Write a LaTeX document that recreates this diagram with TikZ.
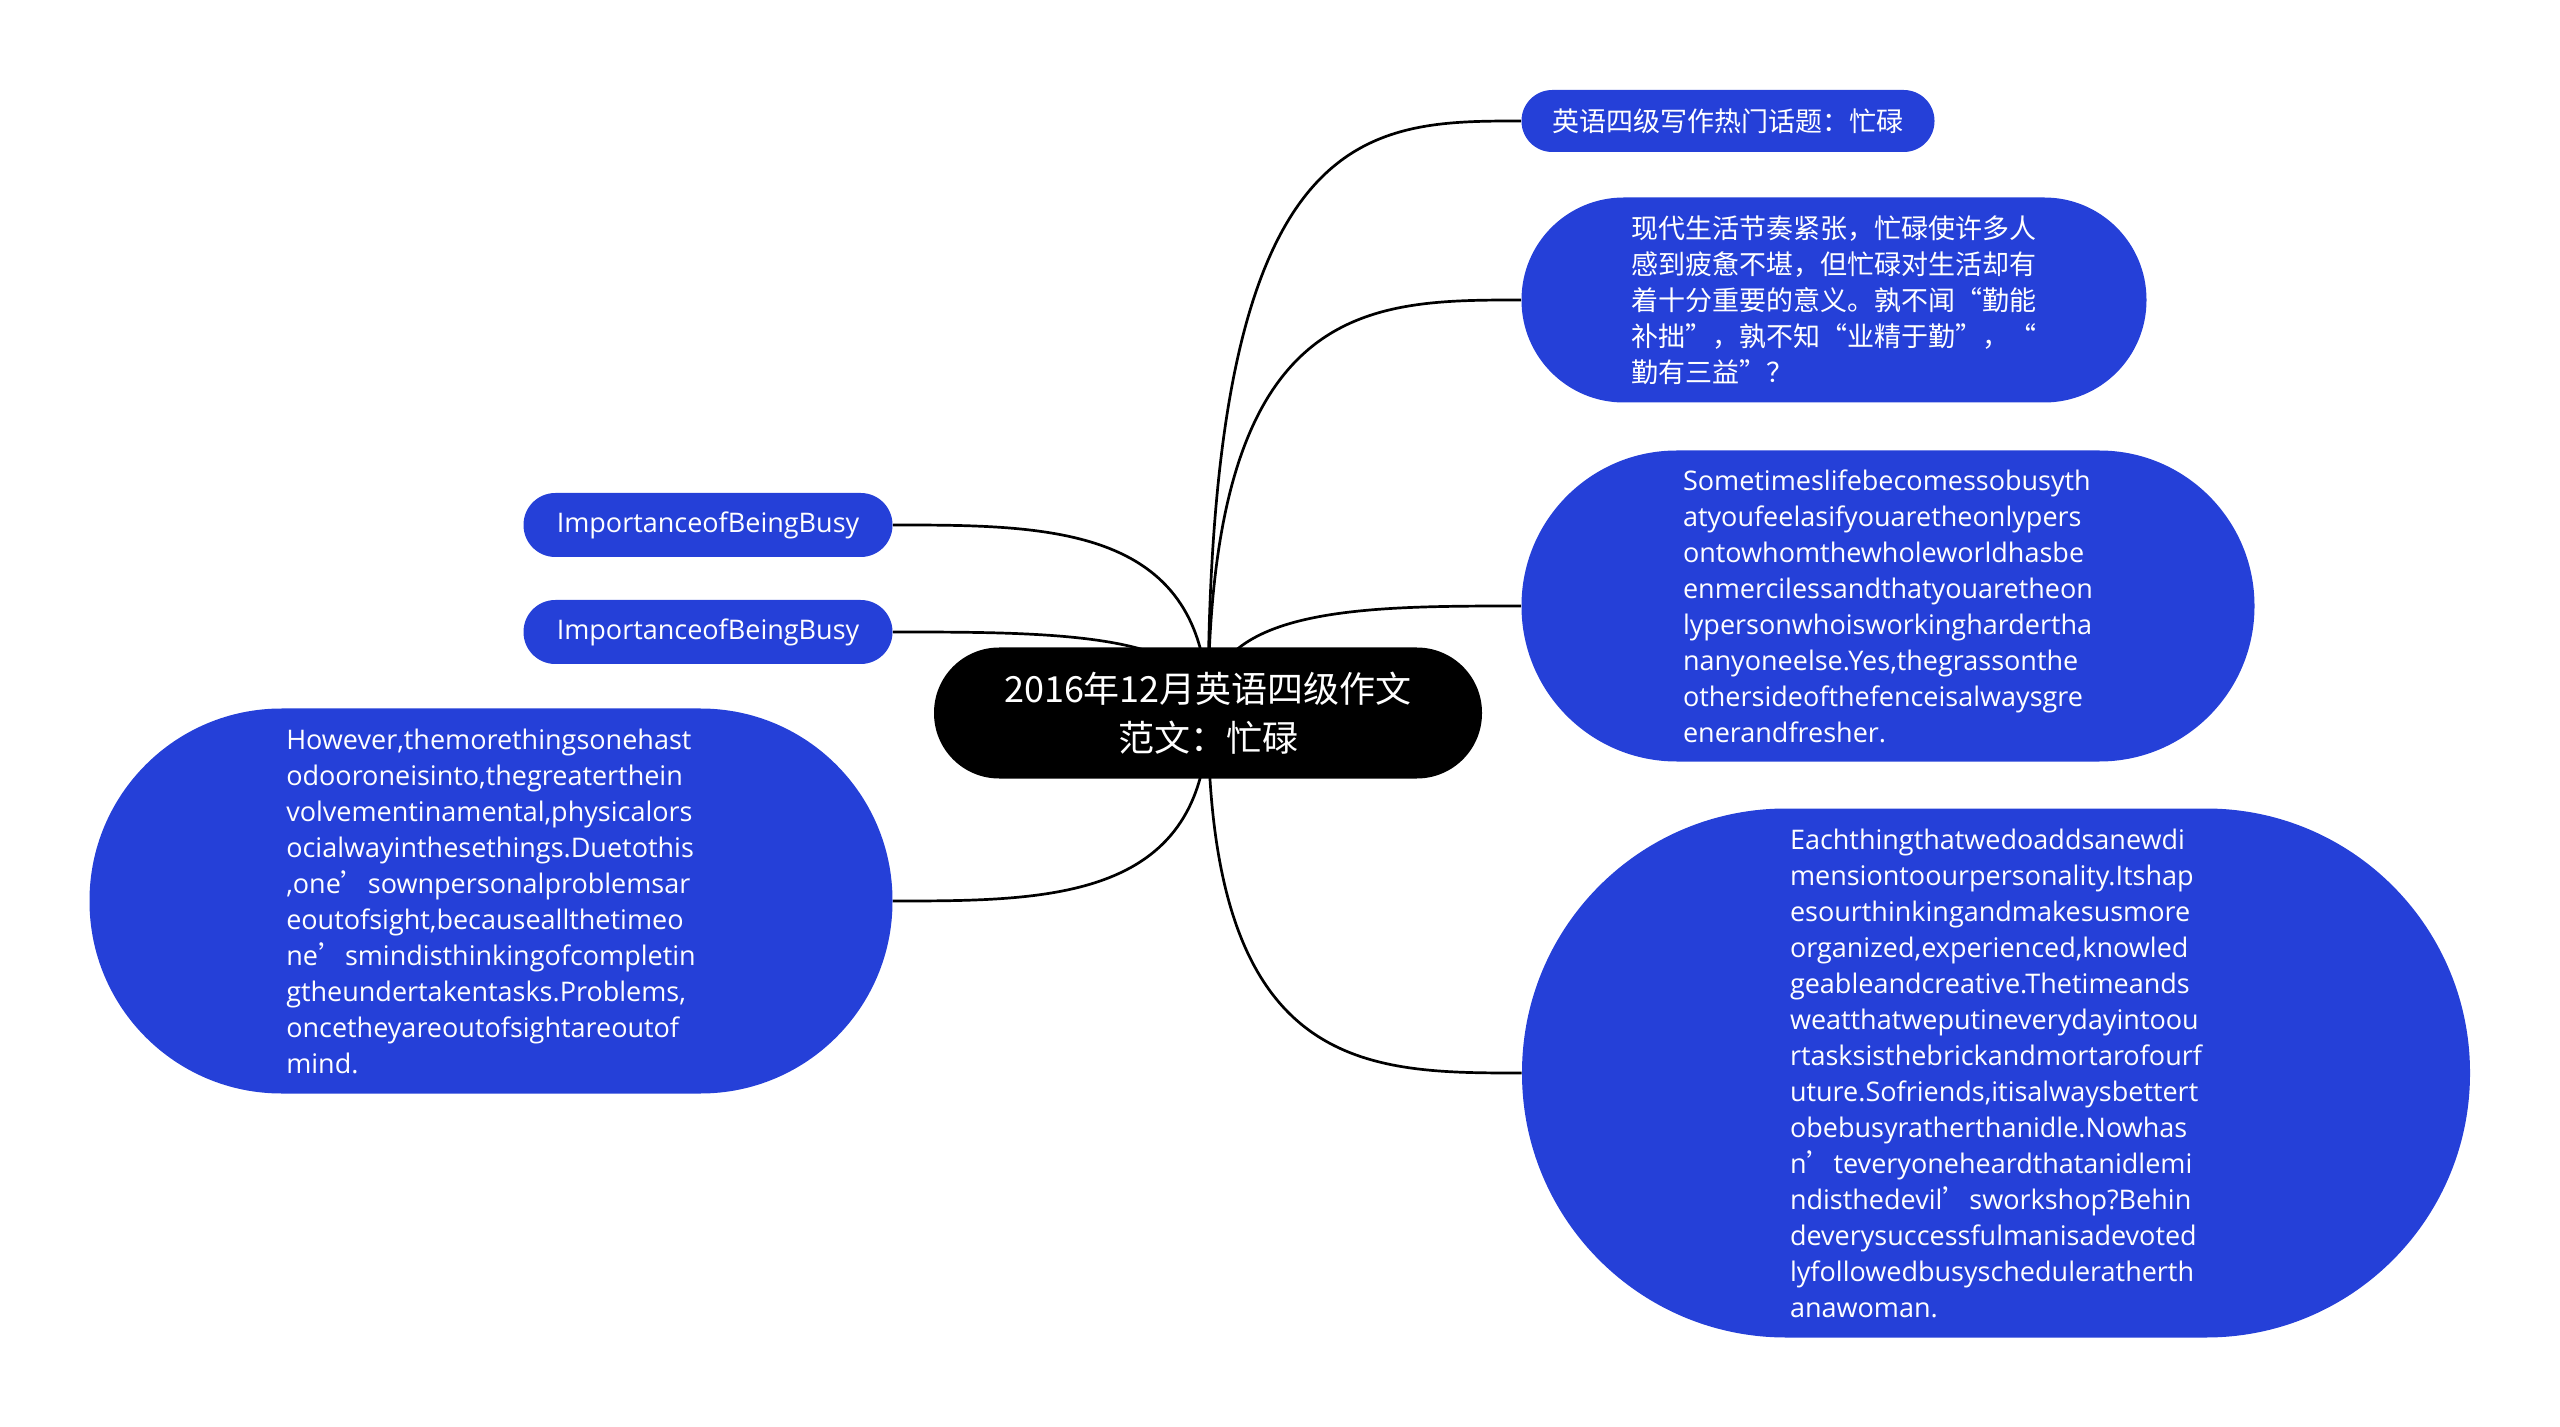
\documentclass[tikz,border=0pt]{standalone}
\usepackage{fontspec}
\setmainfont{Open Sans}
\newfontfamily\cjk{Noto Sans CJK SC}
\usetikzlibrary{calc}
\definecolor{nodeblue}{RGB}{37,64,216}
\pgfdeclarelayer{bg}
\pgfsetlayers{bg,main}
\newcommand\apos{{\cjk ’}}
\begin{document}
\begin{tikzpicture}[x=0.5pt,y=-0.5pt,
  blob/.style={fill=nodeblue, text=white, align=left, inner sep=0pt,
    font=\fontsize{13.5}{18}\selectfont},
  cjkblob/.style={blob, font=\cjk\fontsize{13.5}{18}\selectfont},
  link/.style={line width=1.35pt, draw=black}]
\useasboundingbox (0,0) rectangle (2560,1427);

\node[fill=black, text=white, align=center, inner sep=0pt,
  minimum width=274pt, minimum height=65.5pt, rounded corners=32.6pt,
  font=\cjk\fontsize{18}{24.5}\selectfont] (root) at (1208,713)
  {2016年12月英语四级作文\\范文：忙碌};

\node[cjkblob, minimum width=206.5pt, minimum height=31pt, rounded corners=15.4pt]
  (n1) at (1728,121) {英语四级写作热门话题：忙碌};

\node[cjkblob, minimum width=312.5pt, minimum height=102.5pt, rounded corners=51.1pt]
  (n2) at (1834,300) {现代生活节奏紧张，忙碌使许多人\\感到疲惫不堪，但忙碌对生活却有\\着十分重要的意义。孰不闻“勤能\\补拙”，孰不知“业精于勤”，“\\勤有三益”？};

\node[blob, minimum width=366.5pt, minimum height=155.5pt, rounded corners=77.6pt]
  (n3) at (1888,606) {Sometimeslifebecomessobusyth\\atyoufeelasifyouaretheonlypers\\ontowhomthewholeworldhasbe\\enmercilessandthatyouaretheon\\lypersonwhoisworkinghardertha\\nanyoneelse.Yes,thegrassonthe\\othersideofthefenceisalwaysgre\\enerandfresher.};

\node[blob, minimum width=474pt, minimum height=264.5pt, rounded corners=132pt]
  (n4) at (1996,1073) {Eachthingthatwedoaddsanewdi\\mensiontoourpersonality.Itshap\\esourthinkingandmakesusmore\\organized,experienced,knowled\\geableandcreative.Thetimeands\\weatthatweputineverydayintoou\\rtasksisthebrickandmortarofourf\\uture.Sofriends,itisalwaysbettert\\obebusyratherthanidle.Nowhas\\n\apos teveryoneheardthatanidlemi\\ndisthedevil\apos sworkshop?Behin\\deverysuccessfulmanisadevoted\\lyfollowedbusyscheduleratherth\\anawoman.};

\node[blob, minimum width=184.5pt, minimum height=32pt, rounded corners=15.9pt]
  (l1) at (708,525) {ImportanceofBeingBusy};

\node[blob, minimum width=184.5pt, minimum height=32pt, rounded corners=15.9pt]
  (l2) at (708,632) {ImportanceofBeingBusy};

\node[blob, minimum width=401.5pt, minimum height=192.5pt, rounded corners=96pt]
  (l3) at (491,901) {However,themorethingsonehast\\odooroneisinto,thegreaterthein\\volvementinamental,physicalors\\ocialwayinthesethings.Duetothis\\,one\apos sownpersonalproblemsar\\eoutofsight,becauseallthetimeo\\ne\apos smindisthinkingofcompletin\\gtheundertakentasks.Problems,\\oncetheyareoutofsightareoutof\\mind.};

\begin{pgfonlayer}{bg}
\foreach \t in {n1,n2,n3,n4}{
  \draw[link] (root.center) .. controls (root.center |- \t.west)
    and ($(root.center |- \t.west)!0.5!(\t.west)$) .. (\t.west);
}
\foreach \t in {l1,l2,l3}{
  \draw[link] (root.center) .. controls (root.center |- \t.east)
    and ($(root.center |- \t.east)!0.5!(\t.east)$) .. (\t.east);
}
\end{pgfonlayer}
\end{tikzpicture}
\end{document}
